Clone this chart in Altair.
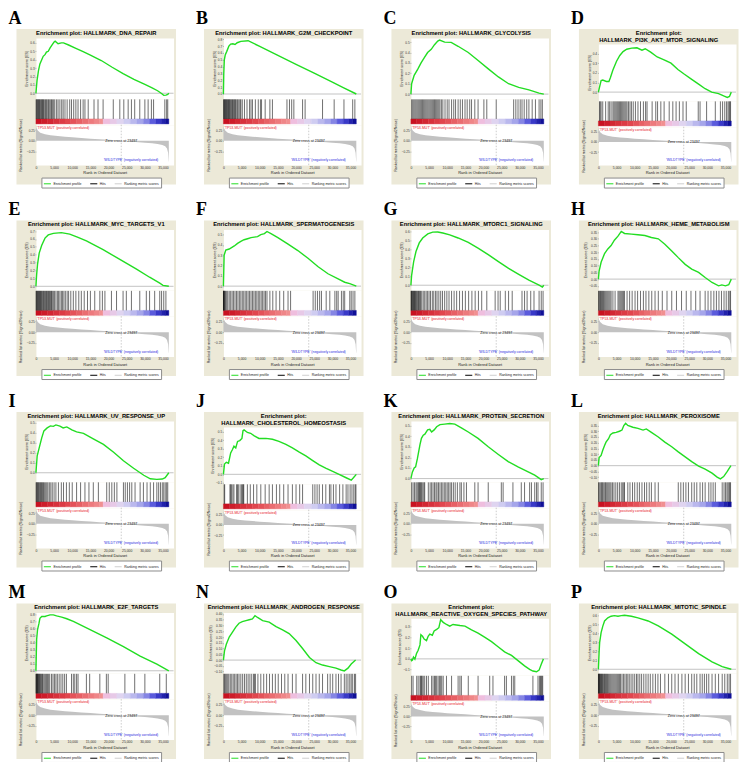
import altair as alt
import pandas as pd

FONT = "Liberation Sans"
LETTER_FONT = "Liberation Serif"
BEIGE = "#ECE9D8"
GREEN = "#22DD22"
BOX_W, BOX_H = 160, 156
PL = 19.5
PW = 138
XMAX = 37900

LETTERS = list("ABCDEFGHIJKLMNOP")
NAMES = ["HALLMARK_DNA_REPAIR", "HALLMARK_G2M_CHECKPOINT", "HALLMARK_GLYCOLYSIS",
         "HALLMARK_PI3K_AKT_MTOR_SIGNALING", "HALLMARK_MYC_TARGETS_V1", "HALLMARK_SPERMATOGENESIS",
         "HALLMARK_MTORC1_SIGNALING", "HALLMARK_HEME_METABOLISM", "HALLMARK_UV_RESPONSE_UP",
         "HALLMARK_CHOLESTEROL_HOMEOSTASIS", "HALLMARK_PROTEIN_SECRETION", "HALLMARK_PEROXISOME",
         "HALLMARK_E2F_TARGETS", "HALLMARK_ANDROGEN_RESPONSE", "HALLMARK_REACTIVE_OXYGEN_SPECIES_PATHWAY",
         "HALLMARK_MITOTIC_SPINDLE"]
TWO_LINE = ["D", "J", "O"]

# ES y-axis domain and ticks per panel
ES_DOMAIN = {"A": [-0.066, 0.659], "B": [-0.07, 0.82], "C": [-0.045, 0.54], "D": [-0.09, 0.5],
             "E": [-0.05, 0.72], "F": [-0.04, 0.55], "G": [-0.056, 0.62], "H": [-0.083, 0.37],
             "I": [-0.09, 0.52], "J": [-0.11, 0.555], "K": [-0.03, 0.545], "L": [-0.14, 0.39],
             "M": [-0.035, 0.835], "N": [-0.114, 0.414], "O": [-0.152, 0.377], "P": [-0.044, 0.636]}
T01 = [0.0, 0.1, 0.2, 0.3, 0.4, 0.5, 0.6, 0.7, 0.8]
ES_TICKS = {"A": T01[:7], "B": T01[:9], "C": T01[:6], "D": T01[:5], "E": T01[:8], "F": T01[:6],
            "G": T01[:7], "H": [-0.05, 0.0, 0.05, 0.1, 0.15, 0.2, 0.25, 0.3, 0.35],
            "I": T01[:6], "J": [-0.1] + T01[:6], "K": T01[:6],
            "L": [-0.1, -0.05, 0.0, 0.05, 0.1, 0.15, 0.2, 0.25, 0.3, 0.35],
            "M": T01[:9], "N": [-0.1, -0.05, 0.0, 0.05, 0.1, 0.15, 0.2, 0.25, 0.3, 0.35, 0.4],
            "O": [-0.1, 0.0, 0.1, 0.2, 0.3], "P": T01[:7]}
TWO_DEC = ["H", "L", "N"]

# Enrichment score curves: (rank in thousands, ES)
ES = {
 "A": [(0,0),(0.3,0.15),(0.7,0.27),(1.1,0.35),(1.6,0.4),(2.0,0.44),(2.5,0.46),(2.9,0.49),(3.4,0.5),(3.9,0.54),(4.5,0.58),(5.0,0.61),(5.3,0.62),(6.1,0.59),(7.0,0.6),(7.6,0.6),(9.0,0.575),(11.0,0.535),(13.0,0.495),(15.0,0.455),(18.0,0.39),(21.0,0.31),(24.0,0.235),(27.0,0.165),(30.0,0.105),(32.0,0.065),(33.5,0.03),(34.5,0.0),(35.2,-0.025),(35.8,-0.022),(36.3,-0.015),(36.6,0.0)],
 "B": [(0,0),(0.1,0.3),(0.25,0.5),(0.5,0.57),(0.9,0.62),(1.5,0.7),(2.0,0.73),(2.6,0.735),(3.2,0.725),(3.8,0.75),(4.8,0.77),(6.8,0.78),(10,0.696),(15,0.565),(20,0.435),(25,0.304),(30,0.173),(33,0.094),(36.6,0.0)],
 "C": [(0,0),(0.2,0.1),(0.9,0.18),(1.9,0.24),(2.8,0.3),(3.7,0.35),(4.6,0.4),(5.6,0.43),(6.5,0.475),(7.4,0.51),(7.9,0.52),(9.3,0.5),(11.1,0.497),(13.0,0.46),(15.8,0.4),(18.6,0.32),(21.4,0.24),(24.1,0.165),(26.9,0.1),(29.7,0.065),(32.5,0.04),(35.3,0.01),(36.6,0.0)],
 "D": [(0,0),(0.3,0.05),(0.75,0.12),(1.2,0.125),(2.2,0.11),(2.9,0.11),(3.3,0.15),(4.0,0.23),(5.0,0.32),(5.9,0.38),(6.8,0.42),(7.8,0.445),(9.2,0.457),(10.6,0.46),(12.0,0.435),(12.9,0.45),(14.4,0.415),(16.2,0.365),(18.1,0.335),(20.0,0.3),(21.9,0.235),(23.7,0.185),(25.6,0.135),(27.5,0.085),(29.4,0.035),(31.2,0.0),(33.1,-0.015),(34.5,-0.04),(35.5,-0.055),(36.1,-0.045),(36.6,0.0)],
 "E": [(0,0),(0.2,0.15),(0.45,0.28),(0.9,0.42),(1.6,0.52),(2.5,0.61),(3.4,0.65),(4.8,0.67),(7.0,0.68),(9.3,0.66),(11.6,0.62),(13.9,0.575),(18.5,0.465),(23.1,0.34),(27.7,0.217),(31.3,0.115),(34.1,0.04),(35.0,0.012),(36.6,0.0)],
 "F": [(0,0),(0.2,0.3),(0.65,0.35),(1.6,0.36),(3.0,0.39),(3.9,0.415),(4.8,0.435),(5.7,0.45),(6.65,0.46),(7.6,0.47),(8.5,0.475),(9.4,0.48),(10.3,0.5),(11.3,0.51),(12.0,0.53),(13.1,0.51),(15.0,0.47),(17.7,0.41),(20.5,0.345),(23.3,0.27),(26.0,0.19),(28.8,0.12),(31.6,0.07),(33.4,0.038),(34.8,0.025),(36.6,0.0)],
 "G": [(0,0),(0.2,0.11),(0.75,0.26),(1.4,0.375),(2.3,0.47),(3.25,0.525),(4.65,0.57),(6.0,0.59),(7.4,0.592),(8.8,0.58),(10.7,0.56),(13.0,0.525),(15.8,0.475),(18.6,0.41),(21.4,0.337),(24.1,0.262),(26.9,0.187),(29.7,0.12),(32.5,0.056),(35.3,0.0),(36.2,-0.02),(36.6,0.0)],
 "H": [(0,0),(0.2,0.06),(0.75,0.125),(1.7,0.19),(2.6,0.225),(3.5,0.25),(4.4,0.29),(5.4,0.32),(6.3,0.355),(7.2,0.34),(9.1,0.335),(10.9,0.33),(12.8,0.325),(14.6,0.31),(16.5,0.3),(18.3,0.26),(20.2,0.21),(22.0,0.16),(23.9,0.11),(25.7,0.075),(27.6,0.05),(29.4,0.012),(31.3,-0.025),(33.1,-0.05),(34.0,-0.043),(35.0,-0.05),(35.9,-0.042),(36.6,0.0)],
 "I": [(0,0),(0.35,0.17),(0.9,0.25),(1.6,0.35),(2.2,0.42),(3.1,0.45),(4.0,0.47),(4.8,0.465),(5.5,0.48),(6.6,0.467),(7.5,0.45),(8.5,0.46),(9.9,0.43),(11.2,0.41),(13.1,0.395),(15.8,0.34),(18.6,0.285),(21.4,0.205),(24.1,0.12),(26.9,0.045),(29.7,-0.025),(31.5,-0.06),(33.3,-0.066),(34.8,-0.063),(35.6,-0.05),(36.6,0.0)],
 "J": [(0,0),(0.3,0.12),(0.8,0.14),(1.4,0.13),(2.0,0.25),(2.5,0.29),(2.9,0.33),(3.4,0.31),(3.9,0.385),(4.5,0.395),(5.1,0.42),(5.4,0.51),(5.7,0.52),(6.6,0.49),(7.5,0.48),(8.5,0.45),(9.8,0.42),(11.7,0.42),(13.5,0.41),(15.3,0.385),(17.2,0.35),(19.0,0.31),(20.9,0.26),(22.7,0.215),(24.6,0.16),(26.4,0.11),(28.3,0.07),(30.1,0.035),(32.0,-0.004),(33.8,-0.04),(35.2,-0.068),(35.8,-0.04),(36.6,0.0)],
 "K": [(0,0),(0.4,0.06),(0.9,0.1),(1.3,0.11),(1.8,0.19),(2.5,0.32),(2.9,0.38),(3.4,0.41),(3.85,0.42),(4.6,0.46),(5.2,0.465),(5.7,0.44),(6.4,0.46),(7.1,0.49),(8.0,0.51),(9.3,0.515),(10.7,0.52),(12.1,0.515),(13.9,0.48),(15.8,0.44),(18.5,0.38),(21.3,0.3),(24.0,0.23),(26.8,0.16),(29.5,0.11),(32.3,0.063),(34.1,0.032),(35.5,0.0),(35.9,-0.01),(36.6,0.0)],
 "L": [(0,0),(0.2,0.07),(0.75,0.09),(1.2,0.135),(1.7,0.175),(2.1,0.205),(2.8,0.235),(3.3,0.27),(4.0,0.285),(4.9,0.29),(5.8,0.3),(6.5,0.31),(7.0,0.35),(7.5,0.37),(8.1,0.35),(9.5,0.335),(10.9,0.325),(12.3,0.31),(13.2,0.32),(14.6,0.29),(16.5,0.25),(18.3,0.205),(20.2,0.165),(22.0,0.12),(23.9,0.077),(25.7,0.035),(27.6,-0.003),(29.4,-0.03),(31.3,-0.065),(32.7,-0.1),(33.6,-0.115),(34.5,-0.095),(35.5,-0.05),(36.5,0.0)],
 "M": [(0,0),(0.2,0.45),(0.45,0.59),(0.85,0.68),(1.1,0.75),(1.6,0.776),(2.5,0.776),(2.95,0.786),(3.9,0.8),(4.8,0.8),(5.7,0.786),(7.1,0.767),(8.5,0.744),(10.3,0.706),(14.9,0.59),(19.5,0.47),(24.1,0.345),(28.7,0.21),(33.3,0.094),(36.6,0.0)],
 "N": [(0,0),(0.3,0.08),(0.8,0.137),(1.6,0.2),(2.5,0.243),(3.4,0.286),(4.3,0.32),(5.2,0.334),(6.2,0.343),(7.1,0.35),(8.0,0.357),(8.7,0.386),(9.4,0.37),(10.8,0.343),(12.6,0.33),(14.5,0.29),(16.3,0.263),(18.1,0.23),(20.0,0.17),(21.8,0.1),(23.7,0.023),(25.5,-0.023),(27.3,-0.043),(29.2,-0.057),(31.0,-0.07),(32.4,-0.086),(33.3,-0.094),(34.3,-0.07),(35.2,-0.034),(36.4,0.0)],
 "O": [(0,0),(0.2,-0.016),(0.45,-0.01),(0.7,0.016),(1.1,-0.003),(1.55,0.05),(2.0,0.08),(2.5,0.13),(2.75,0.225),(3.2,0.21),(3.65,0.185),(4.3,0.17),(4.75,0.21),(5.2,0.23),(5.9,0.22),(6.4,0.26),(7.1,0.275),(7.7,0.29),(8.2,0.365),(8.9,0.34),(9.8,0.32),(10.7,0.305),(11.6,0.32),(13.5,0.31),(14.9,0.305),(16.7,0.27),(18.5,0.24),(20.4,0.2),(22.2,0.16),(24.0,0.113),(25.8,0.065),(27.7,0.032),(29.5,-0.016),(31.3,-0.065),(32.7,-0.097),(33.6,-0.113),(34.6,-0.12),(35.3,-0.105),(35.9,-0.05),(36.5,0.0)],
 "P": [(0,0),(0.2,0.19),(0.35,0.3),(0.75,0.41),(1.2,0.48),(1.7,0.54),(2.6,0.575),(3.5,0.593),(4.4,0.6),(5.4,0.593),(6.3,0.6),(7.2,0.604),(9.1,0.593),(10.9,0.575),(13.7,0.54),(16.5,0.484),(20.2,0.393),(23.9,0.284),(27.6,0.175),(31.3,0.084),(34.1,0.03),(36.6,0.0)],
}

# Hit positions (rank in thousands)
HITS = {
 "A": [0.05,0.2,0.35,0.5,0.7,0.85,1.0,1.2,1.4,1.6,1.75,1.9,2.1,2.3,2.6,2.8,3.0,3.3,3.5,3.8,4.1,4.3,4.6,4.9,5.2,5.7,6.1,6.6,7.1,7.5,8.0,8.6,9.3,9.8,10.4,11.0,11.6,12.3,13.0,13.5,14.4,16.0,17.1,18.5,21.3,23.1,24.2,25.4,26.3,27.2,28.6,30.0,30.9,31.8,32.4,35.5,36.0,36.3],
 "B": [0.05,0.15,0.3,0.45,0.6,0.75,0.9,1.05,1.2,1.4,1.55,1.7,1.9,2.1,2.3,2.5,2.7,2.9,3.1,3.3,3.5,3.8,4.0,4.3,4.6,4.8,5.2,5.8,6.5,7.2,7.6,8.0,8.8,9.6,10.2,10.5,11.5,12.8,13.5,17.5,18.2,18.8,19.4,21.8,22.5,27.3,30.5,33.2,35.6,36.2],
 "C": [0.2,0.5,0.8,1.1,1.4,1.7,2.0,2.3,2.6,2.9,3.2,3.5,3.8,4.1,4.4,4.7,5.0,5.3,5.6,5.9,6.2,6.5,6.8,7.1,7.4,7.7,8.0,8.4,8.8,9.4,10.0,10.5,11.2,11.8,12.3,13.0,13.6,14.2,14.9,15.5,16.2,16.7,17.6,18.5,20.1,20.9,23.5,28.3,28.9,29.5,30.1,30.6,31.2,31.9,32.5,33.4,34.3,35.3,35.8,36.2],
 "D": [0.3,0.5,0.75,1.2,2.0,2.7,3.1,3.5,4.0,4.3,4.6,4.9,5.2,5.5,5.8,6.1,6.4,6.7,7.0,7.3,7.6,7.9,8.3,8.7,9.1,9.6,10.2,10.9,11.6,12.4,13.0,13.4,14.8,15.8,16.3,17.2,18.1,19.5,20.5,21.4,22.3,23.3,24.2,27.5,28.0,29.8,32.2,33.6,34.2,34.8,35.3,35.7,36.0,36.2,36.4],
 "E": [0.05,0.15,0.3,0.45,0.6,0.75,0.9,1.05,1.2,1.35,1.5,1.7,1.9,2.1,2.3,2.5,2.7,2.9,3.1,3.3,3.5,3.7,3.9,4.1,4.3,4.5,4.8,5.1,5.5,5.9,6.2,6.6,7.0,7.3,7.7,8.1,8.6,9.0,9.6,10.3,11.0,11.8,12.5,13.3,14.2,15.0,16.2,17.6,18.3,19.0,20.8,22.2,24.0,24.9,26.3,28.6,30.4,31.3,32.7,34.1,34.6,35.2,35.8],
 "F": [0.02,0.06,0.1,0.16,0.25,0.4,0.6,0.9,1.2,1.6,2.0,2.4,2.8,3.2,3.6,4.0,4.4,4.8,5.2,5.6,6.0,6.4,6.8,7.2,7.6,8.0,8.4,8.8,9.2,9.6,10.0,10.4,10.8,11.2,11.6,12.0,12.8,13.6,14.5,15.5,16.6,17.8,18.5,24.7,25.3,25.9,26.5,27.0,28.3,29.3,30.7,31.2,31.6,32.5,33.0,33.4,34.8,35.2,35.7,36.2],
 "G": [0.05,0.15,0.25,0.4,0.55,0.7,0.85,1.0,1.15,1.3,1.5,1.7,1.9,2.1,2.3,2.5,2.7,3.0,3.4,3.8,4.2,4.6,5.0,5.4,5.9,6.3,6.8,7.2,7.7,8.2,8.7,9.3,9.9,10.5,11.2,11.9,12.6,13.4,14.2,15.0,15.9,16.8,17.7,18.6,19.5,20.9,23.2,24.0,24.6,26.0,26.9,27.9,30.6,31.3,32.0,33.0,33.9,35.3,35.9,36.4],
 "H": [0.05,0.2,0.4,0.6,0.8,1.0,1.2,1.4,1.7,2.0,2.3,2.6,2.9,3.2,3.5,4.0,4.6,5.4,5.7,6.0,6.3,6.6,6.9,7.2,7.9,8.6,9.3,10.1,10.8,11.6,12.4,13.1,13.9,14.7,15.6,16.5,17.6,18.9,20.2,21.5,22.9,24.2,25.5,26.8,28.0,29.4,30.2,31.0,31.8,32.5,33.2,33.9,34.6,35.2,35.8,36.2,36.4],
 "I": [0.05,0.2,0.35,0.5,0.7,0.9,1.1,1.3,1.5,1.7,1.9,2.1,2.4,2.7,3.0,3.3,3.7,4.1,4.5,5.0,5.5,6.2,7.0,7.6,8.4,9.2,10.0,11.2,12.3,13.5,14.6,15.8,17.2,19.5,20.2,20.9,21.6,22.3,24.1,24.6,25.2,25.8,26.4,27.3,28.7,29.6,30.6,31.5,32.4,33.3,33.8,34.3,34.8,35.2,35.6,36.0,36.3],
 "J": [0.2,0.35,1.8,2.0,2.2,2.6,2.9,3.6,3.9,4.1,4.6,5.0,5.3,5.45,5.6,6.6,7.4,8.3,9.2,10.3,11.5,12.6,13.5,14.6,15.5,16.6,17.8,19.0,20.0,21.0,21.8,24.6,25.2,25.8,26.4,27.3,28.2,29.2,29.6,30.3,31.0,32.0,32.9,33.8,34.3,34.9,35.4,35.9,36.3,36.5],
 "K": [0.2,0.6,1.0,1.4,1.7,2.0,2.2,2.4,2.6,2.8,3.0,3.3,3.6,3.8,4.8,5.3,5.7,6.1,6.5,6.9,7.2,7.6,8.0,8.4,8.8,9.2,9.6,10.0,10.4,10.8,11.2,11.7,12.2,12.8,13.5,13.9,14.6,15.3,17.6,18.5,21.3,24.9,25.4,28.1,30.4,31.3,32.7,33.2,34.1,34.6,35.0,35.9,36.4],
 "L": [0.05,0.2,0.5,0.8,1.0,1.2,1.5,1.8,2.0,2.3,2.6,2.9,3.2,3.5,3.9,4.3,4.8,5.3,5.8,6.3,6.7,7.0,7.2,8.1,8.7,9.4,10.0,10.7,11.3,12.0,12.7,13.3,14.0,14.6,15.6,16.5,22.0,22.7,23.4,24.1,24.8,25.7,26.4,27.1,28.0,28.7,29.4,30.4,31.0,31.6,32.2,34.1,34.6,35.0,35.4,35.7,36.0,36.2,36.4],
 "M": [0.03,0.1,0.2,0.3,0.4,0.5,0.6,0.75,0.9,1.05,1.2,1.4,1.6,1.8,2.0,2.3,2.6,2.9,3.2,3.5,3.8,4.3,4.7,5.1,5.5,5.9,6.4,6.9,7.4,7.9,8.4,9.8,10.3,10.7,11.2,11.6,13.9,14.8,17.6,19.4,19.9,24.5,27.2,30.0,34.1,35.9],
 "N": [0.1,0.3,0.6,0.9,1.2,1.5,1.9,2.3,2.7,3.1,3.5,3.9,4.3,4.8,5.3,5.8,6.3,6.8,7.3,7.8,8.3,8.6,8.8,9.5,10.3,11.1,11.9,12.7,13.5,14.3,15.1,16.0,16.9,17.8,19.0,20.0,21.8,22.7,23.7,24.6,25.5,26.4,27.3,28.7,29.4,30.1,31.0,31.7,32.4,33.3,33.8,34.3,34.8,35.2,35.6,36.1,36.4],
 "O": [0.2,0.6,1.6,2.0,2.5,2.7,2.9,3.1,3.4,3.8,4.3,4.8,5.7,6.1,6.5,6.8,7.1,7.5,7.9,8.2,8.5,8.9,9.8,11.2,13.0,13.5,13.9,15.8,18.5,21.7,22.6,25.8,26.3,27.7,28.2,28.6,33.6,35.0,35.4,35.7,35.9,36.1,36.3],
 "P": [0.02,0.08,0.15,0.25,0.35,0.5,0.65,0.8,0.95,1.1,1.3,1.5,1.7,1.9,2.1,2.3,2.5,2.8,3.1,3.4,3.7,4.0,4.3,4.6,4.9,5.2,5.5,5.8,6.1,6.5,6.9,7.3,7.7,8.1,8.5,9.0,9.5,10.0,10.5,10.9,11.4,11.9,12.5,13.1,13.7,14.3,15.0,15.7,16.4,17.1,18.3,19.3,20.2,21.1,22.0,23.0,23.9,24.8,25.7,26.4,27.1,28.0,28.6,29.2,29.8,30.4,31.3,32.2,33.1,34.1,34.8,35.5,36.0,36.4],
}

# Ranked list metric (shared by all panels): rank in thousands, metric value
METRIC_RANK = [0, 0.15, 0.5, 1.2, 2.5, 4, 6, 8, 10, 12.5, 15, 17.5, 20, 22, 23.5, 25, 27.5, 30, 32, 33.5, 34.8, 35.6, 36.1, 36.4, 36.55, 36.6]
METRIC_VAL = [0.37, 0.3, 0.24, 0.19, 0.155, 0.13, 0.11, 0.095, 0.08, 0.065, 0.05, 0.036, 0.022, 0.01, 0.0, -0.012, -0.028, -0.045, -0.06, -0.075, -0.1, -0.13, -0.18, -0.28, -0.47, -0.5]
METRIC_DOMAIN = [-0.572, 0.377]
ZERO_CROSS = 23497

# Colour bar blocks (rank in thousands)
CB_EDGES = [0, 1.6, 3.2, 4.8, 6.4, 8.0, 9.6, 11.2, 12.8, 14.4, 16.0, 17.4, 18.5, 20.4, 22.3, 24.2, 26.0, 27.8, 29.6, 31.3, 33.0, 34.5, 35.6, 36.6]
CB_DOMAIN = [0, 9000, 18400, 18500, 24000, 29500, 33000, 36600]
CB_COLORS = ["#c50d1c", "#e2474f", "#f29494", "#f3b9da", "#dcd8f3", "#9c9ce8", "#4646d8", "#07078c"]

LEGEND_ITEMS = ["Enrichment profile", "Hits", "Ranking metric scores"]

met_df = pd.DataFrame({"rank": [r * 1000 for r in METRIC_RANK], "v": METRIC_VAL})
met_df["base"] = 0.0
cb_df = pd.DataFrame({"start": [e * 1000 for e in CB_EDGES[:-1]], "end": [e * 1000 for e in CB_EDGES[1:]]})
cb_df["mid"] = (cb_df["start"] + cb_df["end"]) / 2
zc_df = pd.DataFrame({"rank": [ZERO_CROSS], "ty": [-0.012], "label": ["Zero cross at %d" % ZERO_CROSS]})
pos_df = pd.DataFrame({"rank": [250], "ty": [0.305], "label": ["'TP53-MUT' (positively correlated)"]})
neg_df = pd.DataFrame({"rank": [33700], "ty": [-0.455], "label": ["'WILDTYPE' (negatively correlated)"]})
one = pd.DataFrame({"n": [0]})
WHITE_VIEW = alt.ViewBackground(fill="white", stroke="transparent")


def make_panel(idx):
    L = LETTERS[idx]
    two = L in TWO_LINE
    head_h = 15 if two else 9
    es_h = 57 if two else 61
    hits_h = 26
    met_h = 38.5 if two else 40.5
    xs = alt.Scale(domain=[0, XMAX], nice=False, zero=False)

    # header: beige panel, letter, title
    layers = [
        alt.Chart(one).mark_rect(fill=BEIGE).encode(
            x=alt.value(-PL), x2=alt.value(BOX_W - PL), y=alt.value(0), y2=alt.value(BOX_H)),
        alt.Chart(one).mark_text(text=L, font=LETTER_FONT, fontWeight="bold", fontSize=18,
                                 align="left", baseline="alphabetic", color="black").encode(
            x=alt.value(-PL - 8), y=alt.value(-5)),
    ]
    lines = ["Enrichment plot:", NAMES[idx]] if two else ["Enrichment plot: " + NAMES[idx]]
    for j, t in enumerate(lines):
        layers.append(alt.Chart(one).mark_text(text=t, font=FONT, fontWeight="bold", fontSize=5.8,
                                               align="center", baseline="middle", color="black").encode(
            x=alt.value(BOX_W / 2 - PL), y=alt.value(3.6 + 7.2 * j)))
    header = alt.layer(*layers).properties(width=PW, height=head_h)

    # enrichment score plot
    pts = ES[L]
    es_df = pd.DataFrame({"rank": [p[0] * 1000 for p in pts], "es": [p[1] for p in pts]})
    es_df["series"] = LEGEND_ITEMS[0]
    ys = alt.Scale(domain=ES_DOMAIN[L], nice=False, zero=False)
    yax = alt.Axis(values=ES_TICKS[L], format=".2f" if L in TWO_DEC else ".1f",
                   title="Enrichment score (ES)", titleFontSize=3.6, titlePadding=1.2,
                   labelFontSize=3.1, labelPadding=0.8, tickSize=1)
    zero = alt.Chart(pd.DataFrame({"z": [0.0]})).mark_rule(color="#9a9a9a", strokeWidth=0.6).encode(
        y=alt.Y("z:Q", scale=ys, axis=yax))
    line = alt.Chart(es_df).mark_line(strokeWidth=1.4).encode(
        x=alt.X("rank:Q", scale=xs, axis=None),
        y=alt.Y("es:Q", scale=ys, axis=yax),
        color=alt.Color("series:N",
                        scale=alt.Scale(domain=LEGEND_ITEMS, range=[GREEN, "#000000", "#cfcfcf"]),
                        legend=alt.Legend(orient="none", legendX=5.5, legendY=(134 if two else 140),
                                          direction="horizontal", title=None, labelFont=FONT,
                                          labelFontSize=3.5, labelColor="#222", labelOffset=1.5,
                                          symbolType="stroke", symbolSize=50, symbolStrokeWidth=1,
                                          columnPadding=5.5, padding=1.5, strokeColor="#8c8c8c",
                                          fillColor="white")))
    es = alt.layer(zero, line).properties(width=PW, height=es_h, view=WHITE_VIEW)

    # hits + colour bar
    hits_df = pd.DataFrame({"rank": [h * 1000 for h in HITS[L]]})
    cbs = alt.Scale(domain=CB_DOMAIN, range=CB_COLORS, interpolate="rgb")
    cbar = alt.Chart(cb_df).mark_rect(strokeWidth=0.4).encode(
        x=alt.X("start:Q", scale=xs, axis=None), x2="end:Q",
        y=alt.value(20.2), y2=alt.value(25.2),
        fill=alt.Fill("mid:Q", scale=cbs, legend=None),
        stroke=alt.Stroke("mid:Q", scale=cbs, legend=None))
    hit = alt.Chart(hits_df).mark_rule(color="#111111", strokeWidth=0.6).encode(
        x=alt.X("rank:Q", scale=xs, axis=None), y=alt.value(0.6), y2=alt.value(20.2))
    hits = alt.layer(cbar, hit).properties(width=PW, height=hits_h, view=WHITE_VIEW)

    # ranked list metric
    ms = alt.Scale(domain=METRIC_DOMAIN, nice=False, zero=False)
    xax = alt.Axis(values=list(range(0, 35001, 5000)), format=",d", title="Rank in Ordered Dataset",
                   titleFontSize=4, titleY=7.5, titleBaseline="middle", labelFontSize=3.4,
                   labelPadding=0.2, ticks=False)
    mya = alt.Axis(values=[-0.25, 0.0, 0.25], format=".2f", title="Ranked list metric (Signal2Noise)",
                   titleFontSize=3.6, titlePadding=3.5, labelFontSize=3.1,
                   labelPadding=0.8, tickSize=1)
    area = alt.Chart(met_df).mark_area(color="#c2c2c2").encode(
        x=alt.X("rank:Q", scale=xs, axis=xax), y=alt.Y("v:Q", scale=ms, axis=mya), y2="base:Q")
    zc = alt.Chart(zc_df).mark_rule(color="#999999", strokeDash=[1.5, 1.5], strokeWidth=0.5).encode(
        x=alt.X("rank:Q", scale=xs, axis=xax))
    zct = alt.Chart(zc_df).mark_text(font=FONT, fontSize=3.6, color="#111111", align="center",
                                     baseline="middle").encode(
        x=alt.X("rank:Q", scale=xs, axis=xax), y=alt.Y("ty:Q", scale=ms, axis=mya), text="label:N")
    pos = alt.Chart(pos_df).mark_text(font=FONT, fontSize=3.5, color="#e8141e", align="left",
                                      baseline="middle").encode(
        x=alt.X("rank:Q", scale=xs, axis=xax), y=alt.Y("ty:Q", scale=ms, axis=mya), text="label:N")
    neg = alt.Chart(neg_df).mark_text(font=FONT, fontSize=3.5, color="#2a2ae0", align="right",
                                      baseline="middle").encode(
        x=alt.X("rank:Q", scale=xs, axis=xax), y=alt.Y("ty:Q", scale=ms, axis=mya), text="label:N")
    met = alt.layer(area, zc, zct, pos, neg).properties(width=PW, height=met_h, view=WHITE_VIEW)

    return alt.vconcat(header, es, hits, met, spacing=0, bounds="flush").resolve_scale(
        color="independent").resolve_legend(color="independent")


panels = [make_panel(i) for i in range(16)]
rows = [alt.hconcat(*panels[r * 4:(r + 1) * 4], spacing=19).resolve_scale(color="independent")
        .resolve_legend(color="independent") for r in range(4)]
chart = alt.vconcat(*rows, spacing=12).resolve_scale(color="independent").resolve_legend(
    color="independent").properties(padding=0, background="white")
chart = chart.configure_view(stroke="transparent").configure_axis(
    labelFont=FONT, titleFont=FONT, labelColor="#333333", titleColor="#222222",
    titleFontWeight="normal", domain=False, grid=False, tickColor="#777777", tickWidth=0.5,
    labelFlush=False, labelOverlap=False)

chart.save("out.html", embed_options={"renderer": "svg", "actions": False})
